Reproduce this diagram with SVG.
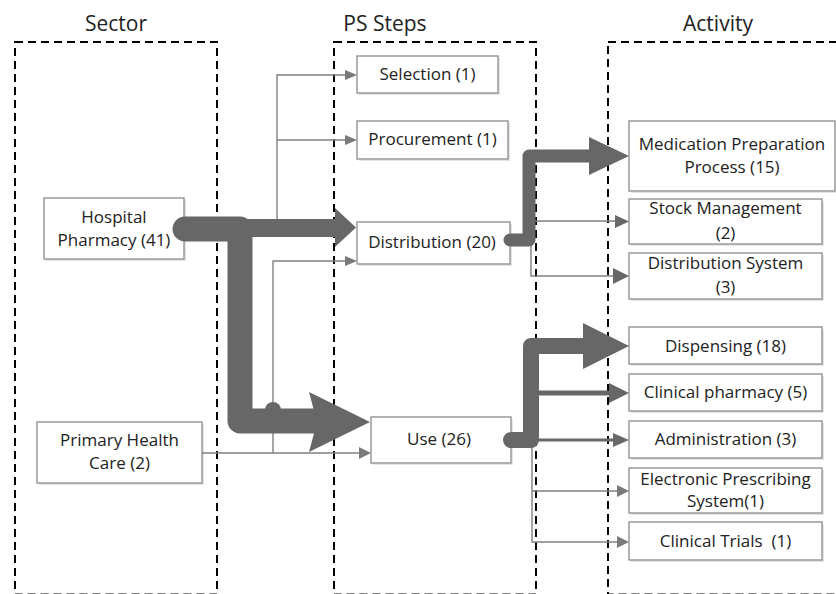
<svg xmlns="http://www.w3.org/2000/svg" width="836" height="594" viewBox="0 0 836 594">
<style>
.title{font-family:"Open Sans","Liberation Sans",sans-serif;font-size:21px;fill:#222;text-anchor:middle}
.lbl{font-family:"Open Sans","Liberation Sans",sans-serif;font-size:17px;fill:#222;text-anchor:middle}
.box{fill:#fff;stroke:#9a9a9a;stroke-width:1.5}
.shadow{fill:#e4e4e4}
.zone{fill:none;stroke:#000;stroke-width:2;stroke-dasharray:8 5}
.thin{fill:none;stroke:#808080;stroke-width:1.4}
.thick{fill:none;stroke:#666766;stroke-linejoin:round}
.ah{fill:#7a7a7a}
.th{fill:#666766}
</style>
<g id="zones">
<rect class="zone" x="15" y="42" width="202" height="552.5"/>
<rect class="zone" x="334" y="42" width="202" height="552.5"/>
<rect class="zone" x="608" y="42" width="240" height="552.5"/>
<text class="title" x="116" y="31">Sector</text>
<text class="title" x="385" y="31">PS Steps</text>
<text class="title" x="718" y="31">Activity</text>
</g>
<g id="hospital">
<rect class="shadow" x="46" y="200" width="140" height="61"/>
<rect class="box" x="44" y="198" width="140" height="61"/>
<text class="lbl" x="114" y="223">Hospital</text>
<text class="lbl" x="114" y="246">Pharmacy (41)</text>
</g>
<g id="primary">
<rect class="shadow" x="39" y="424" width="165" height="61"/>
<rect class="box" x="37" y="422" width="165" height="61"/>
<text class="lbl" x="119.5" y="446">Primary Health</text>
<text class="lbl" x="119.5" y="469">Care (2)</text>
</g>
<g id="selection">
<rect class="shadow" x="359" y="58" width="141" height="37"/>
<rect class="box" x="357" y="56" width="141" height="37"/>
<text class="lbl" x="427.5" y="80">Selection (1)</text>
</g>
<g id="procurement">
<rect class="shadow" x="359" y="123" width="151" height="38"/>
<rect class="box" x="357" y="121" width="151" height="38"/>
<text class="lbl" x="432.5" y="145">Procurement (1)</text>
</g>
<g id="distribution">
<rect class="shadow" x="359" y="224" width="153" height="42"/>
<rect class="box" x="357" y="222" width="153" height="42"/>
<text class="lbl" x="432" y="248">Distribution (20)</text>
</g>
<g id="use">
<rect class="shadow" x="373" y="419" width="140" height="46"/>
<rect class="box" x="371" y="417" width="140" height="46"/>
<text class="lbl" x="439" y="445">Use (26)</text>
</g>
<g id="medprep">
<rect class="shadow" x="631" y="123" width="206" height="70"/>
<rect class="box" x="629" y="121" width="206" height="70"/>
<text class="lbl" x="732" y="150">Medication Preparation</text>
<text class="lbl" x="732" y="173">Process (15)</text>
</g>
<g id="stock">
<rect class="shadow" x="631" y="201" width="193" height="45"/>
<rect class="box" x="629" y="199" width="193" height="45"/>
<text class="lbl" x="725.5" y="214">Stock Management</text>
<text class="lbl" x="725.5" y="239">(2)</text>
</g>
<g id="distsystem">
<rect class="shadow" x="631" y="255" width="193" height="46"/>
<rect class="box" x="629" y="253" width="193" height="46"/>
<text class="lbl" x="725.5" y="269">Distribution System</text>
<text class="lbl" x="725.5" y="293">(3)</text>
</g>
<g id="dispensing">
<rect class="shadow" x="631" y="329" width="193" height="37"/>
<rect class="box" x="629" y="327" width="193" height="37"/>
<text class="lbl" x="725.5" y="352">Dispensing (18)</text>
</g>
<g id="clinpharm">
<rect class="shadow" x="631" y="376" width="193" height="37"/>
<rect class="box" x="629" y="374" width="193" height="37"/>
<text class="lbl" x="725.5" y="398">Clinical pharmacy (5)</text>
</g>
<g id="administration">
<rect class="shadow" x="631" y="423" width="193" height="37"/>
<rect class="box" x="629" y="421" width="193" height="37"/>
<text class="lbl" x="725.5" y="445">Administration (3)</text>
</g>
<g id="eps">
<rect class="shadow" x="631" y="470" width="193" height="45"/>
<rect class="box" x="629" y="468" width="193" height="45"/>
<text class="lbl" x="725.5" y="485">Electronic Prescribing</text>
<text class="lbl" x="725.5" y="507">System(1)</text>
</g>
<g id="trials">
<rect class="shadow" x="631" y="524" width="193" height="38"/>
<rect class="box" x="629" y="522" width="193" height="38"/>
<text class="lbl" x="725.5" y="547" font-size="15.5" fill="#333" xml:space="preserve">Clinical Trials  (1)</text>
</g>
<g id="connectors">
<path class="thin" d="M277 228 V75 H346 M277 140 H346"/>
<polygon class="ah" points="345,70 357,75 345,80"/>
<polygon class="ah" points="345,135 357,140 345,145"/>
<path class="thin" d="M202 453 H360 M273 453 V261 H346"/>
<polygon class="ah" points="345,256 357,261 345,266"/>
<polygon class="ah" points="359,447 371,453 359,459"/>
<path class="thick" stroke-width="18" d="M240 228 H337"/>
<polygon class="th" points="335,208 356,227.5 335,247"/>
<path class="thick" stroke-width="25" stroke-linecap="round" d="M185 229 H240 V421 H318"/>
<path class="th" d="M265 410 A8 8 0 0 1 281 410 Z"/>
<polygon class="th" points="309,392 370,422 309,452 317,422"/>
<path class="thin" stroke-width="2" d="M535 221 H616"/>
<polygon class="th" points="615,215 629,221.5 615,228"/>
<path class="thin" stroke-width="2.5" d="M531 246 V276 H614"/>
<polygon class="th" points="613,268 629,276 613,284"/>
<path class="thick" stroke-width="13" stroke-linecap="round" d="M510 240 H529 V156 H592"/>
<polygon class="th" points="589,137 629,156 589,175"/>
<path class="thin" stroke-width="1.5" d="M532 445 V542 H618 M532 491 H618"/>
<polygon class="ah" points="617,485 629,491 617,497"/>
<polygon class="ah" points="617,536 629,542 617,548"/>
<path class="thick" stroke-width="3" d="M531 440 H614"/>
<polygon class="th" points="613,433 629,440 613,447"/>
<path class="thick" stroke-width="5" d="M531 393 H610"/>
<polygon class="th" points="609,383 629,393 609,403"/>
<path class="thick" stroke-width="16" stroke-linecap="round" d="M511 440 H531 V346 H586"/>
<polygon class="th" points="583,323 629,346 583,369"/>
</g>
</svg>
